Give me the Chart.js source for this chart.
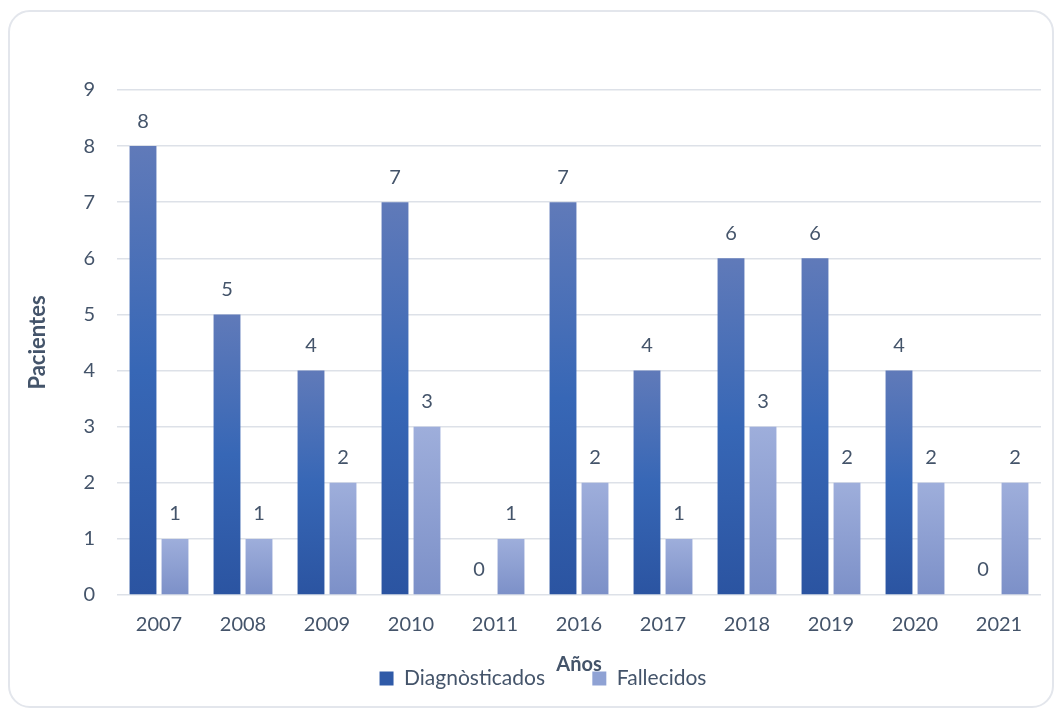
<!DOCTYPE html>
<html>
<head>
<meta charset="utf-8">
<script src="https://cdn.jsdelivr.net/npm/chart.js@4.4.1/dist/chart.umd.min.js"></script>
<style>
  html, body { margin: 0; padding: 0; background: #ffffff; }
  #card {
    position: absolute; left: 8px; top: 10px; width: 1042px; height: 694px;
    border: 2px solid #e3e6ec; border-radius: 22px; background: #ffffff;
  }
  #wrap { position: absolute; left: 0; top: 0; width: 1062px; height: 718px; }
</style>
</head>
<body>
<div id="card"></div>
<div id="wrap"><canvas id="barChart"></canvas></div>
<script>
const YEARS = ['2007', '2008', '2009', '2010', '2011', '2016', '2017', '2018', '2019', '2020', '2021'];
const DIAGNOSTICADOS = [8, 5, 4, 7, 0, 7, 4, 6, 6, 4, 0];
const FALLECIDOS = [1, 1, 2, 3, 1, 2, 1, 3, 2, 2, 2];
const Y_MIN = 0;
const Y_MAX = 9;

const TEXT_COLOR = '#44546A';
const FONT = 'Lato, "Open Sans", sans-serif';

// gradient per bar, top to bottom like the office fill
function barGradient(stops, fallback) {
    return function (context) {
        const chart = context.chart;
        const y = chart.scales.y;
        if (!chart.chartArea || !y || context.type !== 'data') return fallback;
        const top = y.getPixelForValue(context.raw);
        const bottom = y.getPixelForValue(0);
        if (!isFinite(top) || top >= bottom) return fallback;
        const g = chart.ctx.createLinearGradient(0, top, 0, bottom);
        stops.forEach(s => g.addColorStop(s[0], s[1]));
        return g;
    };
}

const valueLabels = {
    id: 'valueLabels',
    afterDatasetsDraw(chart) {
        const ctx = chart.ctx;
        ctx.save();
        ctx.font = '20px ' + FONT;
        ctx.fillStyle = TEXT_COLOR;
        ctx.textAlign = 'center';
        ctx.textBaseline = 'middle';
        chart.data.datasets.forEach((ds, i) => {
            const meta = chart.getDatasetMeta(i);
            meta.data.forEach((el, j) => {
                ctx.fillText(String(ds.data[j]), el.x, el.y - 25);
            });
        });
        ctx.restore();
    }
};

const legendHeight = {
    id: 'legendHeight',
    beforeInit(chart) {
        const origFit = chart.legend.fit;
        chart.legend.fit = function () {
            origFit.call(this);
            this.height = 30;
        };
    }
};

const ctx = document.getElementById('barChart').getContext('2d');
new Chart(ctx, {
    type: 'bar',
    data: {
        labels: YEARS,
        datasets: [
            {
                label: 'Diagnòsticados',
                data: DIAGNOSTICADOS,
                legendColor: '#2f5aa8',
                backgroundColor: barGradient([[0, '#607ab9'], [0.5, '#3767b6'], [1, '#2b54a1']], '#2f5aa8'),
                categoryPercentage: 0.762,
                barPercentage: 0.84
            },
            {
                label: 'Fallecidos',
                data: FALLECIDOS,
                legendColor: '#8fa2d4',
                backgroundColor: barGradient([[0, '#9eaedb'], [1, '#7c90c8']], '#8fa2d4'),
                categoryPercentage: 0.762,
                barPercentage: 0.84
            }
        ]
    },
    plugins: [valueLabels, legendHeight],
    options: {
        responsive: true,
        maintainAspectRatio: false,
        animation: false,
        layout: {
            padding: { top: 90, right: 21, bottom: 20, left: 45 }
        },
        plugins: {
            tooltip: { enabled: false },
            legend: {
                position: 'bottom',
                labels: {
                    color: TEXT_COLOR,
                    font: { family: FONT, size: 21 },
                    boxWidth: 14,
                    boxHeight: 14,
                    padding: 0,
                    generateLabels(chart) {
                        return chart.data.datasets.map((ds, i) => ({
                            text: i === 0 ? ds.label + '\u2003\u2003\u2003' : ds.label,
                            fillStyle: ds.legendColor,
                            strokeStyle: ds.legendColor,
                            lineWidth: 0,
                            fontColor: TEXT_COLOR,
                            hidden: false,
                            datasetIndex: i
                        }));
                    }
                }
            }
        },
        scales: {
            x: {
                grid: { display: false, drawTicks: false },
                border: { display: false },
                ticks: {
                    color: TEXT_COLOR,
                    font: { family: FONT, size: 20 },
                    padding: 18
                },
                title: {
                    display: true,
                    text: 'Años',
                    color: TEXT_COLOR,
                    font: { family: FONT, size: 20, weight: 'bold' },
                    padding: { top: 0, bottom: -9 }
                },
                afterFit(scale) { scale.height = 73; }
            },
            y: {
                min: Y_MIN,
                max: Y_MAX,
                grid: { color: '#dde1e8', lineWidth: 1.5, drawTicks: false },
                border: { display: false },
                ticks: {
                    stepSize: 1,
                    color: TEXT_COLOR,
                    font: { family: FONT, size: 20 },
                    padding: 22
                },
                title: {
                    display: true,
                    text: 'Pacientes',
                    color: TEXT_COLOR,
                    font: { family: FONT, size: 22, weight: 'bold' },
                    padding: { top: -20, bottom: 0 }
                },
                afterFit(scale) { scale.width = 72; }
            }
        }
    }
});
</script>
</body>
</html>
